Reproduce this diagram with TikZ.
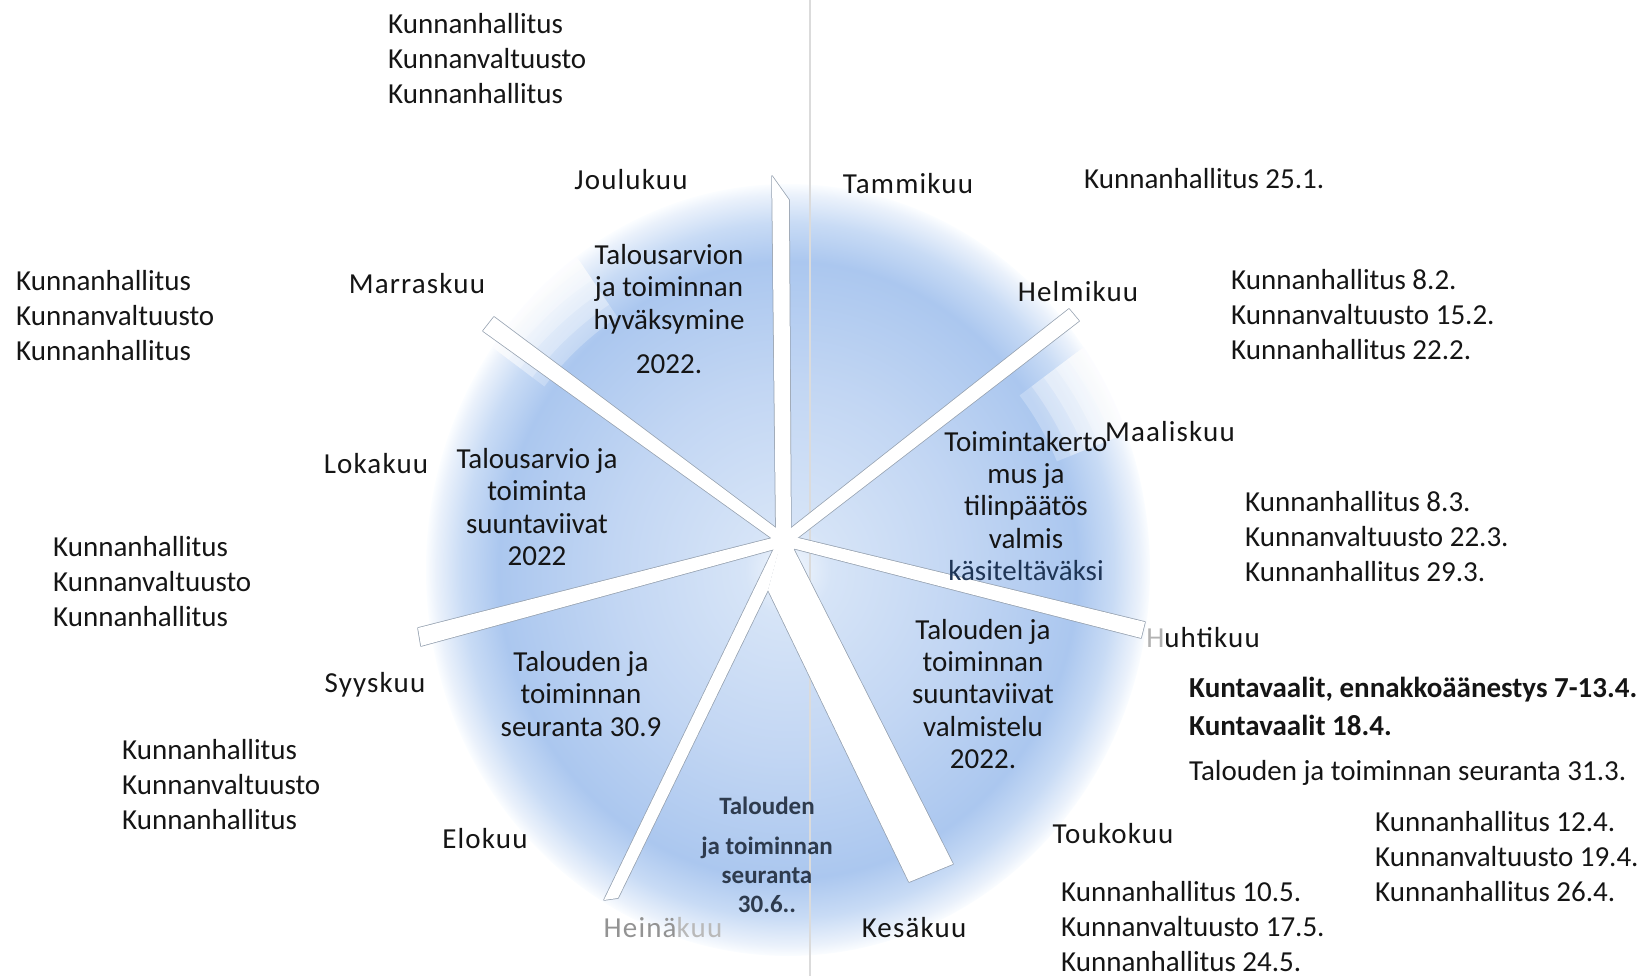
\documentclass[tikz,border=0pt]{standalone}
\usepackage{fontspec}
\setmainfont{Carlito}
\newfontfamily\monthfont[LetterSpace=4]{Carlito}
\usetikzlibrary{calc}
\definecolor{dc0}{HTML}{F2F7FD}
\definecolor{dc1}{HTML}{D6E4F7}
\definecolor{dc2}{HTML}{C2D6F3}
\definecolor{dc3}{HTML}{ABC7EF}
\definecolor{dc4}{HTML}{C8DBF5}
\definecolor{dc5}{HTML}{EAF1FB}
\definecolor{dc6}{HTML}{FBFDFF}
\definecolor{spokegray}{HTML}{95A1B0}
\definecolor{navy}{HTML}{1F3555}
\definecolor{slate}{HTML}{2E3B4E}
\definecolor{ink}{HTML}{151515}
\pgfdeclareradialshading{discshade}{\pgfpoint{0bp}{0bp}}{color(0bp)=(dc0); color(3bp)=(dc1); color(12bp)=(dc2); color(20bp)=(dc3); color(22.5bp)=(dc4); color(24.3bp)=(dc5); color(25bp)=(dc6); color(50bp)=(white)}
\begin{document}
\begin{tikzpicture}[x=1pt,y=-1pt,
  month/.style={font=\monthfont\fontsize{29}{35}\selectfont, inner sep=0pt, text=ink},
  seg/.style={font=\fontsize{29}{32.3}\selectfont, align=center, inner sep=0pt, text=ink},
  lst/.style={font=\fontsize{29}{35}\selectfont, align=left, anchor=west, inner sep=0pt, text=ink},
  spokeedge/.style={draw=spokegray, line width=1.5pt, line join=round},
  spokefill/.style={fill=white},
  notch/.style={fill=white, fill opacity=0.25}]
\useasboundingbox (0,0) rectangle (1650,976);

% disc
\coordinate (c) at (788,570);
\shade[shading=discshade] (c) ellipse [x radius=362pt, y radius=386pt];
% softly faded notches of the circular arrows (canvas angles, counter-clockwise)
\foreach \r [evaluate=\r as \d using 400-\r, evaluate=\r as \ri using \r+15, evaluate=\r as \di using 385-\r] in {290,305,320,335,350} {
  \fill[notch] (c) ++(22:\r pt) arc[start angle=22, end angle=37, radius=\r pt] -- ++(37:\d pt) arc[start angle=37, end angle=22, radius=400pt] -- cycle;
  \fill[notch] (c) ++(124:\ri pt) arc[start angle=124, end angle=143, radius=\ri pt] -- ++(143:\di pt) arc[start angle=143, end angle=124, radius=400pt] -- cycle;
}

% faint vertical page line
\draw[gray!28, line width=1.3pt] (810,0) -- (810,976);

% hub and spoke ends
\coordinate (hub) at (784,541);
\coordinate (apex) at (768,590);

% spoke outlines
\draw[spokeedge] (776,541) -- (772,176) -- (789,200) -- (791,541) -- cycle;
\draw[spokeedge] (781,536) -- (1069,309) -- (1079,321) -- (787,546) -- cycle;
\draw[spokeedge] (786,535) -- (1145,622) -- (1141,638) -- (784,546) -- cycle;
\draw[spokeedge] (788,538) -- (953,864) -- (909,882) -- (apex) -- (780,545) -- cycle;
\draw[spokeedge] (781,542) -- (apex) -- (618,898) -- (604,900) -- (778,540) -- cycle;
\draw[spokeedge] (784,535) -- (418,628) -- (421,646) -- (786,546) -- cycle;
\draw[spokeedge] (788,537) -- (494,317) -- (483,331) -- (781,545) -- cycle;
% spoke fills
\fill[spokefill] (776,541) -- (772,176) -- (789,200) -- (791,541) -- cycle;
\fill[spokefill] (781,536) -- (1069,309) -- (1079,321) -- (787,546) -- cycle;
\fill[spokefill] (786,535) -- (1145,622) -- (1141,638) -- (784,546) -- cycle;
\fill[spokefill] (788,538) -- (953,864) -- (909,882) -- (apex) -- (780,545) -- cycle;
\fill[spokefill] (781,542) -- (apex) -- (618,898) -- (604,900) -- (778,540) -- cycle;
\fill[spokefill] (784,535) -- (418,628) -- (421,646) -- (786,546) -- cycle;
\fill[spokefill] (788,537) -- (494,317) -- (483,331) -- (781,545) -- cycle;
\fill[white] (hub) circle (13pt);

% month labels
\node[month] (dec) at (631,180) {Joulukuu};
\node[month] (jan) at (908,184) {Tammikuu};
\node[month] (feb) at (1078,292) {Helmikuu};
\node[month] (mar) at (1170,432) {Maaliskuu};
\node[month] (apr) at (1203,638) {{\color{gray!60}H}uhtikuu};
\node[month] (may) at (1113,834) {Toukokuu};
\node[month] (jun) at (914,928) {Kesäkuu};
\node[month] (jul) at (663,928) {{\color{gray!85}Heinä}{\color{gray!55}kuu}};
\node[month] (aug) at (485,839) {Elokuu};
\node[month] (sep) at (375,685) {Syyskuu};
\node[month] (oct) at (376,464) {Lokakuu};
\node[month] (nov) at (417,284) {Marraskuu};

% segment texts
\node[seg] (s1) at (669,309) {Talousarvion\\ja toiminnan\\hyväksymine\\[12pt]2022.};
\node[seg] (s2) at (537,507) {Talousarvio ja\\toiminta\\suuntaviivat\\2022};
\node[seg] (s3) at (1026,506) {Toimintakerto\\mus ja\\tilinpäätös\\valmis\\{\color{navy}käsiteltäväksi}};
\node[seg] (s4) at (983,694) {Talouden ja\\toiminnan\\suuntaviivat\\valmistelu\\2022.};
\node[seg] (s5) at (581,694) {Talouden ja\\toiminnan\\seuranta 30.9};
\node[seg, font=\bfseries\fontsize{25}{29}\selectfont, text=slate] (s6) at (767,855) {Talouden\\[11pt]ja toiminnan\\seuranta\\30.6..};

% meeting lists
\node[lst] (l1) at (388,59) {Kunnanhallitus\\Kunnanvaltuusto\\Kunnanhallitus};
\node[lst] (l2) at (1084,179) {Kunnanhallitus 25.1.};
\node[lst] (l3) at (1231,315) {Kunnanhallitus 8.2.\\Kunnanvaltuusto 15.2.\\Kunnanhallitus 22.2.};
\node[lst] (l4) at (1245,537) {Kunnanhallitus 8.3.\\Kunnanvaltuusto 22.3.\\Kunnanhallitus 29.3.};
\node[lst, font=\bfseries\fontsize{29}{38}\selectfont] (l5) at (1189,706) {Kuntavaalit, ennakkoäänestys 7-13.4.\\Kuntavaalit 18.4.};
\node[lst] (l6) at (1189,773) {Talouden ja toiminnan seuranta 31.3.};
\node[lst] (l7) at (1375,857) {Kunnanhallitus 12.4.\\Kunnanvaltuusto 19.4.\\Kunnanhallitus 26.4.};
\node[lst] (l8) at (1061,927) {Kunnanhallitus 10.5.\\Kunnanvaltuusto 17.5.\\Kunnanhallitus 24.5.};
\node[lst] (l9) at (122,785) {Kunnanhallitus\\Kunnanvaltuusto\\Kunnanhallitus};
\node[lst] (l10) at (53,582) {Kunnanhallitus\\Kunnanvaltuusto\\Kunnanhallitus};
\node[lst] (l11) at (16,316) {Kunnanhallitus\\Kunnanvaltuusto\\Kunnanhallitus};
\end{tikzpicture}
\end{document}
